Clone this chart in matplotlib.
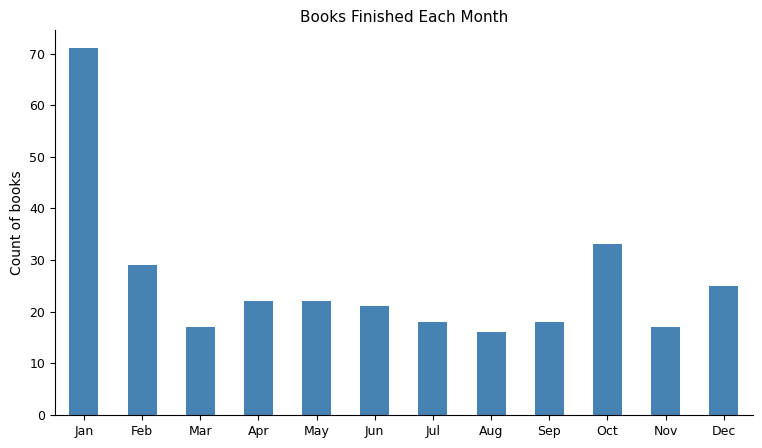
import matplotlib
matplotlib.use("Agg")
import matplotlib.pyplot as plt
import numpy as np

months = ['Jan', 'Feb', 'Mar', 'Apr', 'May', 'Jun',
          'Jul', 'Aug', 'Sep', 'Oct', 'Nov', 'Dec']
books_finished = [71, 29, 17, 22, 22, 21, 18, 16, 18, 33, 17, 25]

fig, ax = plt.subplots(figsize=(7.62, 4.48), dpi=100)
fig.subplots_adjust(left=0.072, right=0.988, top=0.933, bottom=0.074)

x = np.arange(len(months))
ax.bar(x, books_finished, width=0.5, color='steelblue')
ax.set_xticks(x)
ax.set_xticklabels(months, fontsize=9)
ax.tick_params(axis='y', labelsize=9)
ax.set_xlim(-0.5, len(months) - 0.5)
ax.set_ylabel('Count of books', fontsize=10)
ax.set_title('Books Finished Each Month', fontsize=11)

# drop top/right frame lines
ax.spines['top'].set_visible(False)
ax.spines['right'].set_visible(False)

plt.savefig('out.png', dpi=100)
